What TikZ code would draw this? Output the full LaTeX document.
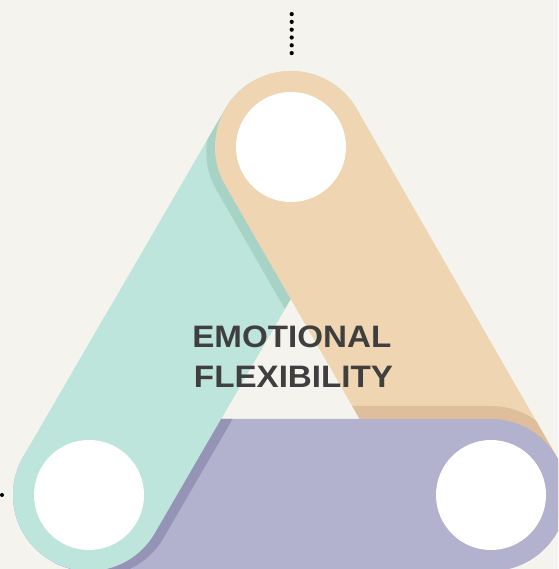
\documentclass[tikz,border=0pt]{standalone}
\usepackage{fontspec}
\usetikzlibrary{calc}
\newfontfamily\titlefont{Liberation Sans}
\definecolor{bgc}{HTML}{F4F3EE}
\definecolor{tealc}{HTML}{BDE5DC}
\definecolor{tealsh}{HTML}{A7D3C6}
\definecolor{orangec}{HTML}{EFD5B1}
\definecolor{orangesh}{HTML}{DFBF9B}
\definecolor{purplec}{HTML}{B2B1CE}
\definecolor{purplesh}{HTML}{9594B7}
\definecolor{textc}{HTML}{3F3F3F}
% stadium outlines, #1 = offset
\newcommand\tealpath[1]{($(BL)+(#1)+(150:76pt)$) -- ($(T)+(#1)+(150:76pt)$) arc[start angle=150,end angle=-30,radius=76pt] -- ($(BL)+(#1)+(-30:76pt)$) arc[start angle=-30,end angle=-210,radius=76pt] -- cycle}
\newcommand\orangepath[1]{($(T)+(#1)+(30:76pt)$) -- ($(BR)+(#1)+(30:76pt)$) arc[start angle=30,end angle=-150,radius=76pt] -- ($(T)+(#1)+(-150:76pt)$) arc[start angle=-150,end angle=-330,radius=76pt] -- cycle}
\newcommand\purplepath[1]{($(BL)+(#1)+(90:76pt)$) -- ($(BR)+(#1)+(90:76pt)$) arc[start angle=90,end angle=-90,radius=76pt] -- ($(BL)+(#1)+(-90:76pt)$) arc[start angle=-90,end angle=-270,radius=76pt] -- cycle}
\newcommand\wide[1]{\scalebox{1.07}[1]{#1}}
\tikzset{
  hole/.style={circle,fill=white,minimum size=110pt,inner sep=0pt},
  title/.style={font=\titlefont\bfseries\fontsize{31}{36}\selectfont,text=textc,anchor=base,inner sep=0pt},
  dotline/.style={line width=4.2pt,line cap=round,dash pattern=on 0pt off 7.8pt}
}
\begin{document}
\begin{tikzpicture}[x=1pt,y=1pt]
\useasboundingbox (0,0) rectangle (558,569);
\clip (0,0) rectangle (558,569);
\fill[bgc] (0,0) rectangle (558,569);
\coordinate (T) at (291,422);
\coordinate (BL) at (89,74);
\coordinate (BR) at (491,74);
% teal band
\fill[tealc] \tealpath{0,0};
\begin{scope}
  \clip \tealpath{0,0};
  \fill[tealsh] \orangepath{-8.7,-5};
\end{scope}
% orange band
\fill[orangec] \orangepath{0,0};
\begin{scope}
  \clip \orangepath{0,0};
  \fill[orangesh] \purplepath{0,13};
\end{scope}
% purple band
\fill[purplec] \purplepath{0,0};
\begin{scope}
  \clip \purplepath{0,0};
  \fill[purplesh] \tealpath{8.7,-5};
\end{scope}
% teal over purple at bottom left
\begin{scope}
  \clip (0,0) rectangle (400,260);
  \fill[tealc] \tealpath{0,0};
\end{scope}
% holes
\node[hole] (hT) at (T) {};
\node[hole] (hBL) at (BL) {};
\node[hole] (hBR) at (BR) {};
% title
\node[title] (t1) at (291.8,221.8) {\wide{EMOTIONAL}};
\node[title] (t2) at (293.5,181.8) {\wide{FLEXIBILITY}};
% dotted connectors
\coordinate (dtop) at (291.7,554.9);
\coordinate (dbot) at (291.7,515.5);
\draw[dotline] (dtop) -- (dbot);
\fill (2,74) circle[radius=2pt];
\end{tikzpicture}
\end{document}
